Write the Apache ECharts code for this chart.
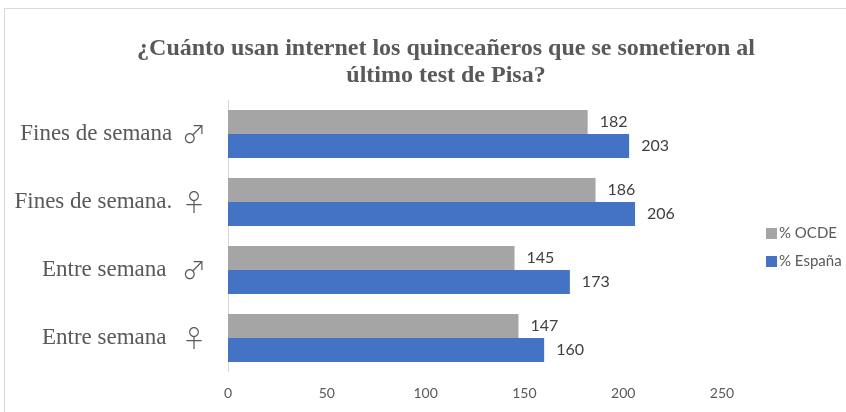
<!DOCTYPE html>
<html>
<head>
<meta charset="utf-8">
<script src="https://cdn.jsdelivr.net/npm/echarts@6/dist/echarts.min.js"></script>
<style>
  html, body { margin: 0; padding: 0; background: #fff; }
  #frame { position: absolute; left: 4px; top: 8px; width: 860px; height: 420px; border: 1px solid #d9d9d9; }
  #main { position: absolute; left: 0; top: 0; width: 846px; height: 412px; }
</style>
</head>
<body>
<div id="frame"></div>
<div id="main"></div>
<script>
// categorias y valores
var categorias = ['Fines de semana ♂', 'Fines de semana. ♀', 'Entre semana  ♂', 'Entre semana  ♀'];
var ocde = [182, 186, 145, 147];
var espana = [203, 206, 173, 160];
var ticksX = [0, 50, 100, 150, 200, 250];

var sans = 'Lato, "Liberation Sans", sans-serif';
var serif = '"Liberation Serif", "DejaVu Serif", serif';

var myChart = echarts.init(document.getElementById('main'));
var option = {
    animation: false,
    title: {
        text: '¿Cuánto usan internet los quinceañeros que se sometieron al\núltimo test de Pisa?',
        left: 441,
        top: 30,
        textAlign: 'center',
        textStyle: {
            fontFamily: serif,
            fontWeight: 'bold',
            fontSize: 24,
            lineHeight: 27,
            color: '#595959'
        }
    },
    legend: {
        orient: 'vertical',
        left: 761,
        top: 221,
        itemWidth: 11,
        itemHeight: 11,
        itemGap: 13,
        icon: 'rect',
        data: ['% OCDE', '% España'],
        textStyle: { fontFamily: sans, fontSize: 15, color: '#595959', padding: [0, 0, 0, -3] }
    },
    grid: { left: 228, right: 124, top: 100, bottom: 40 },
    xAxis: {
        type: 'value',
        min: ticksX[0],
        max: ticksX[ticksX.length - 1],
        interval: 50,
        splitLine: { show: false },
        axisLine: { show: false },
        axisTick: { show: false },
        axisLabel: { fontFamily: sans, fontSize: 14, color: '#595959', margin: 14 }
    },
    yAxis: {
        type: 'category',
        inverse: true,
        data: categorias,
        axisLine: { show: true, lineStyle: { color: '#d9d9d9', width: 1 } },
        axisTick: { show: false },
        axisLabel: {
            margin: 22,
            formatter: function (v) {
                var sym = v.slice(-1);
                return '{t|' + v.slice(0, -1) + '}{s|' + sym + '}';
            },
            rich: {
                t: { fontFamily: serif, fontSize: 23, color: '#595959' },
                s: { fontFamily: '"Noto Sans CJK JP", "DejaVu Sans", sans-serif', fontWeight: 300, fontSize: 24, color: '#595959', padding: [0, 0, 0, 4] }
            }
        }
    },
    series: [
        {
            name: '% OCDE',
            type: 'bar',
            data: ocde,
            barWidth: 24,
            barGap: '0%',
            itemStyle: { color: '#a5a5a5' },
            label: { show: true, position: 'right', distance: 12, fontFamily: sans, fontSize: 16, color: '#404040' }
        },
        {
            name: '% España',
            type: 'bar',
            data: espana,
            barWidth: 24,
            itemStyle: { color: '#4472c4' },
            label: { show: true, position: 'right', distance: 12, fontFamily: sans, fontSize: 16, color: '#404040' }
        }
    ]
};
myChart.setOption(option);
</script>
</body>
</html>
